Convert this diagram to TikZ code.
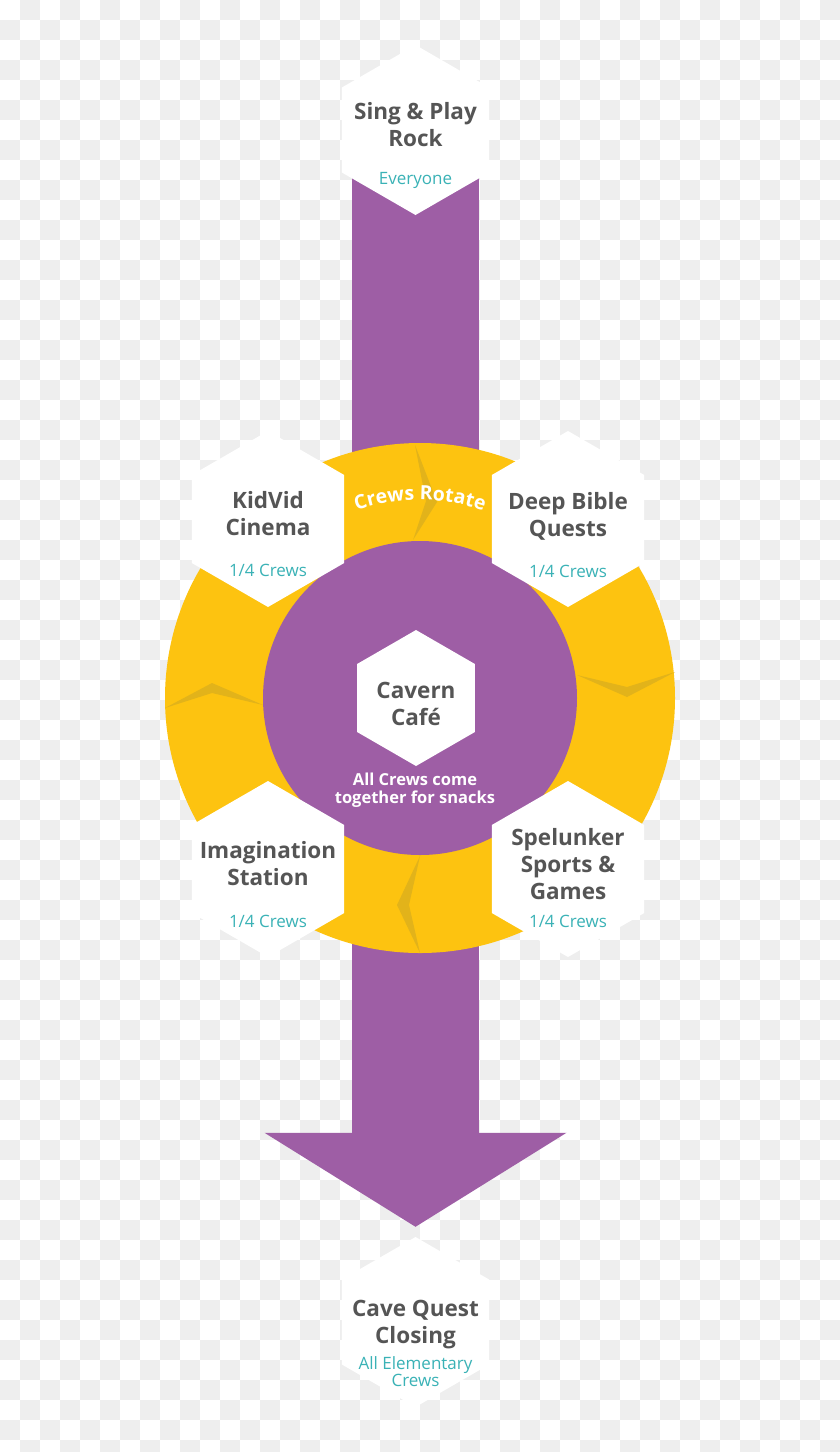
\documentclass[tikz,border=0pt]{standalone}
\usepackage{fontspec}
\setmainfont{Open Sans}
\usetikzlibrary{arrows.meta, shapes.geometric, calc, decorations.text}
\definecolor{cavepurple}{RGB}{158,94,165}
\definecolor{caveyellow}{RGB}{253,195,16}
\definecolor{crackyellow}{RGB}{226,179,26}
\definecolor{stepgray}{RGB}{85,85,85}
\definecolor{crewteal}{RGB}{58,178,182}
\definecolor{checkgray}{RGB}{238,238,238}
\pgfdeclarelayer{checker}
\pgfdeclarelayer{flow}
\pgfdeclarelayer{ring}
\pgfsetlayers{checker,flow,ring,main}
\tikzset{
    hexstep/.style={regular polygon, regular polygon sides=6, regular polygon rotate=30, minimum size=#1, fill=white, inner sep=0pt},
    stepname/.style={font=\bfseries\fontsize{22.5}{27}\selectfont, text=stepgray, align=center, inner sep=0pt},
    crewnote/.style={font=\fontsize{17}{16}\selectfont, text=crewteal, align=center, inner sep=0pt},
    snacknote/.style={font=\bfseries\fontsize{16.5}{17.5}\selectfont, text=white, align=center, inner sep=0pt},
    bigflow/.style={line width=127pt, color=cavepurple, -{Triangle[length=94pt, width=302pt, line width=0pt]}},
    crack/.style={fill=crackyellow}
}

\begin{document}
\begin{tikzpicture}[x=1pt, y=-1pt]
    \useasboundingbox (0,0) rectangle (840,1452);
    % transparent-look background
    \begin{pgfonlayer}{checker}
        \fill[white] (0,0) rectangle (840,1452);
        \foreach \j in {0,...,72}{
            \pgfmathtruncatemacro{\first}{mod(\j+1,2)}
            \pgfmathtruncatemacro{\second}{\first+2}
            \foreach \i in {\first,\second,...,41}
                \fill[checkgray] (20*\i,20*\j) rectangle ++(20,20);
        }
    \end{pgfonlayer}

    % steps
    \node[hexstep=170pt] (singhex) at (415.5,130) {};
    \node[hexstep=176pt] (kidhex) at (268,519) {};
    \node[hexstep=176pt] (biblehex) at (568,519) {};
    \node[hexstep=176pt] (imaghex) at (268,869) {};
    \node[hexstep=176pt] (sporthex) at (568,869) {};
    \node[hexstep=136pt] (cafehex) at (416,698) {};
    \node[hexstep=170pt] (closinghex) at (415.5,1322) {};

    % main flow
    \begin{pgfonlayer}{flow}
        \coordinate (arrowtip) at ([yshift=10pt]closinghex.north);
        \draw[bigflow] (arrowtip |- singhex.center) -- (arrowtip);
    \end{pgfonlayer}

    % rotation ring
    \begin{pgfonlayer}{ring}
        \coordinate (ringc) at (420,698);
        \fill[caveyellow] (ringc) circle[radius=255];
        \fill[crack] (415,445) -- (437,502) -- (413,540) -- (426,501) -- cycle;
        \fill[crack] (577,675) -- (627,697) -- (675,672) -- (627,687) -- cycle;
        \fill[crack] (420,856) -- (397,905) -- (420,953) -- (409,905) -- cycle;
        \fill[crack] (165,708) -- (212,683) -- (263,705) -- (212,693) -- cycle;
        \fill[cavepurple] (ringc) circle[radius=157];
        \path[decorate, decoration={text along path, text align=center, text color=white,
            text={|\bfseries\fontsize{19.5}{20}\selectfont|Crews Rotate}}]
            ($(ringc)+(-125:198)$) arc[start angle=-125, end angle=-55, radius=198];
    \end{pgfonlayer}

    % labels
    \node[stepname] (singname) at (415.5,124.5) {Sing \& Play\\Rock};
    \node[crewnote] (singnote) at (415.5,180) {Everyone};
    \node[stepname] (kidname) at (268,513.5) {KidVid\\Cinema};
    \node[crewnote] (kidnote) at (268,570) {1/4 Crews};
    \node[stepname] (biblename) at (568,516.5) {Deep Bible\\Quests};
    \node[crewnote] (biblenote) at (568,571) {1/4 Crews};
    \node[stepname] (imagname) at (268,863.5) {Imagination\\Station};
    \node[crewnote] (imagnote) at (268,921) {1/4 Crews};
    \node[stepname] (sportname) at (568,864.5) {Spelunker\\Sports \&\\Games};
    \node[crewnote] (sportnote) at (568,921) {1/4 Crews};
    \node[stepname] (cafename) at (416,704) {Cavern\\Café};
    \node[snacknote] (cafenote) at (415,790) {All Crews come\\together for snacks};
    \node[stepname] (closingname) at (415.5,1324.5) {Cave Quest\\Closing};
    \node[crewnote] (closingnote) at (415.5,1371.5) {All Elementary\\Crews};
\end{tikzpicture}
\end{document}
